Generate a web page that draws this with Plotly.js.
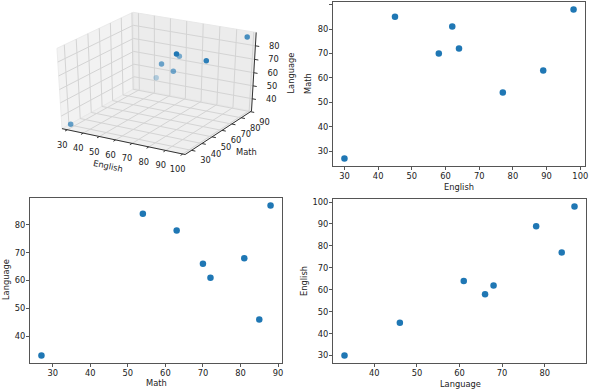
<!DOCTYPE html>
<html>
<head>
<meta charset="utf-8">
<script src="https://cdn.plot.ly/plotly-3.0.1.min.js"></script>
<style>html,body{margin:0;padding:0;background:#fff}#chart{width:590px;height:390px}</style>
</head>
<body>
<div id="chart"></div>
<script>
// ---- data ----
const english = [30, 45, 58, 62, 64, 77, 89, 98];
const math = [27, 85, 70, 81, 72, 54, 63, 88];
const language = [33, 46, 66, 68, 61, 84, 78, 87];

// ---- tick values ----
const englishTicks = [30, 40, 50, 60, 70, 80, 90, 100];
const mathTicks = [30, 40, 50, 60, 70, 80, 90];
const languageTicks3d = [40, 50, 60, 70, 80];

const blue = '#1f77b4';
const W = 590, H = 390;
const font = {family: 'DejaVu Sans', size: 8.3, color: '#222'};

// axis limits (matplotlib-like 5% margins)
function padRange(arr) {
  const lo = Math.min(...arr), hi = Math.max(...arr), m = (hi - lo) * 0.05;
  return [lo - m, hi + m];
}
const rE = padRange(english), rM = padRange(math), rL = padRange(language);

// ---- 3D projection (matplotlib style, elev 30, azim -60, dist 10) ----
const elev = 30 * Math.PI / 180, azim = -60 * Math.PI / 180, dist = 10, kz = 1.0;
const Rc = [0.5, 0.5, kz / 2];
const Eye = [Rc[0] + Math.cos(azim) * Math.cos(elev) * dist,
             Rc[1] + Math.sin(azim) * Math.cos(elev) * dist,
             Rc[2] + Math.sin(elev) * dist];
const sub = (a, b) => [a[0] - b[0], a[1] - b[1], a[2] - b[2]];
const dot = (a, b) => a[0] * b[0] + a[1] * b[1] + a[2] * b[2];
const cross = (a, b) => [a[1] * b[2] - a[2] * b[1], a[2] * b[0] - a[0] * b[2], a[0] * b[1] - a[1] * b[0]];
const norm = a => { const l = Math.sqrt(dot(a, a)); return [a[0] / l, a[1] / l, a[2] / l]; };
const nV = norm(sub(Eye, Rc));
const uV = norm(cross([0, 0, 1], nV));
const vV = cross(nV, uV);
function projN(p) {
  const q = [p[0], p[1], p[2] * kz];
  const d = sub(q, Eye);
  const zv = dot(nV, d);
  return [dot(uV, d) / -zv, dot(vV, d) / -zv, -zv];
}
// screen anchors of the box corners in the figure (normalized corner -> pixel)
const boxAnchors = [[0,0,0,63,128],[1,0,0,185,153],[1,1,0,252,112],[0,1,0,132,93],
                    [0,0,1,58,45],[0,1,1,132,13],[1,1,1,257,32]];
function fit(ps, ts) {
  const n = ps.length; let sx = 0, sy = 0, sxx = 0, sxy = 0;
  for (let i = 0; i < n; i++) { sx += ps[i]; sy += ts[i]; sxx += ps[i] * ps[i]; sxy += ps[i] * ts[i]; }
  const k = (n * sxy - sx * sy) / (n * sxx - sx * sx);
  return [k, (sy - k * sx) / n];
}
const pr = boxAnchors.map(a => projN([a[0], a[1], a[2]]));
const fx = fit(pr.map(p => p[0]), boxAnchors.map(a => a[3]));
const fy = fit(pr.map(p => p[1]), boxAnchors.map(a => a[4]));
function nrm(x, y, z) {
  return [(x - rE[0]) / (rE[1] - rE[0]), (y - rM[0]) / (rM[1] - rM[0]), (z - rL[0]) / (rL[1] - rL[0])];
}
function scr(nx, ny, nz) {
  const p = projN([nx, ny, nz]);
  return [fx[0] * p[0] + fx[1], fy[0] * p[1] + fy[1], p[2]];
}
function scrD(x, y, z) { const q = nrm(x, y, z); return scr(q[0], q[1], q[2]); }

const ax5 = {xaxis: 'x5', yaxis: 'y5', hoverinfo: 'skip', showlegend: false, cliponaxis: false};
const traces3d = [];
function poly(pts, fillcolor, linecolor) {
  const s = pts.map(p => scr(p[0], p[1], p[2]));
  s.push(s[0]);
  traces3d.push(Object.assign({type: 'scatter', mode: 'lines', x: s.map(p => p[0]), y: s.map(p => p[1]),
    fill: 'toself', fillcolor: fillcolor, line: {color: linecolor, width: 1}}, ax5));
}
// panes: left wall (x=min), back wall (y=max), floor (z=min)
poly([[0,0,0],[0,1,0],[0,1,1],[0,0,1]], 'rgb(242,242,242)', 'rgb(235,235,235)');
poly([[0,1,0],[1,1,0],[1,1,1],[0,1,1]], 'rgb(236,236,236)', 'rgb(232,232,232)');
poly([[0,0,0],[1,0,0],[1,1,0],[0,1,0]], 'rgb(239,239,239)', 'rgb(232,232,232)');

// grid lines
const gx = [], gy = [];
function seg(list) { list.forEach(p => { const s = scr(p[0], p[1], p[2]); gx.push(s[0]); gy.push(s[1]); }); gx.push(null); gy.push(null); }
englishTicks.forEach(t => { const a = nrm(t, 0, 0)[0]; if (a >= 0 && a <= 1) seg([[a,0,0],[a,1,0],[a,1,1]]); });
mathTicks.forEach(t => { const b = nrm(0, t, 0)[1]; if (b >= 0 && b <= 1) seg([[1,b,0],[0,b,0],[0,b,1]]); });
languageTicks3d.forEach(t => { const c = nrm(0, 0, t)[2]; if (c >= 0 && c <= 1) seg([[0,0,c],[0,1,c],[1,1,c]]); });
traces3d.push(Object.assign({type: 'scatter', mode: 'lines', x: gx, y: gy, line: {color: 'rgb(212,212,212)', width: 1}}, ax5));

// axis lines
const lx = [], ly = [];
function seg2(list) { list.forEach(p => { const s = scr(p[0], p[1], p[2]); lx.push(s[0]); ly.push(s[1]); }); lx.push(null); ly.push(null); }
seg2([[0,0,0],[1,0,0]]);
seg2([[1,0,0],[1,1,0]]);
seg2([[1,1,0],[1,1,1]]);
// tick marks
englishTicks.forEach(t => { const a = nrm(t, 0, 0)[0]; seg2([[a,0,0],[a,-0.03,0]]); });
mathTicks.forEach(t => { const b = nrm(0, t, 0)[1]; seg2([[1,b,0],[1.03,b,0]]); });
languageTicks3d.forEach(t => { const c = nrm(0, 0, t)[2]; seg2([[1,1,c],[1.03,1,c]]); });
traces3d.push(Object.assign({type: 'scatter', mode: 'lines', x: lx, y: ly, line: {color: '#333', width: 1}}, ax5));

// tick labels
function labels(ticks, fn, off) {
  const s = ticks.map(fn);
  traces3d.push(Object.assign({type: 'scatter', mode: 'text', x: s.map(p => p[0] + off[0]), y: s.map(p => p[1] + off[1]),
    text: ticks.map(String), textfont: font, textposition: 'middle center'}, ax5));
}
labels(englishTicks, t => scrD(t, rM[0], rL[0]), [-5, 16]);
labels(mathTicks, t => scrD(rE[1], t, rL[0]), [14, 11]);
labels(languageTicks3d, t => scrD(rE[1], rM[1], t), [19, 1]);

// data points with depth shading
const pts = english.map((e, i) => scrD(e, math[i], language[i]));
const depths = pts.map(p => p[2]);
const dmin = Math.min(...depths), dmax = Math.max(...depths);
const order = pts.map((p, i) => i).sort((a, b) => depths[b] - depths[a]);
traces3d.push(Object.assign({type: 'scatter', mode: 'markers',
  x: order.map(i => pts[i][0]), y: order.map(i => pts[i][1]),
  marker: {size: 5.5, line: {width: 0},
    color: order.map(i => 'rgba(31,119,180,' + (1 - 0.7 * (depths[i] - dmin) / (dmax - dmin)).toFixed(3) + ')')}}, ax5));

// ---- 2D scatter panels ----
const mk = {color: blue, size: 6.5, line: {width: 0}};
const traces2d = [
  {type: 'scatter', mode: 'markers', x: english, y: math, xaxis: 'x2', yaxis: 'y2', marker: mk},
  {type: 'scatter', mode: 'markers', x: math, y: language, xaxis: 'x3', yaxis: 'y3', marker: mk},
  {type: 'scatter', mode: 'markers', x: language, y: english, xaxis: 'x4', yaxis: 'y4', marker: mk}
];

function dx(a, b) { return [a / W, b / W]; }
function dy(top, bottom) { return [1 - bottom / H, 1 - top / H]; }
function ax(domain, range, anchor) {
  return {domain: domain, range: range, dtick: 10, tick0: 0, anchor: anchor,
    showline: true, mirror: true, linecolor: '#555', linewidth: 1,
    ticks: 'outside', ticklen: 3, tickcolor: '#555', showgrid: false, zeroline: false,
    tickfont: font, ticklabelstandoff: -1, automargin: false};
}
function ttl(text, x, y, angle) {
  return {text: text, x: x / W, y: 1 - y / H, xref: 'paper', yref: 'paper', showarrow: false,
    font: font, textangle: angle || 0, xanchor: 'center', yanchor: 'middle'};
}
function ttl3(text, x, y, angle) {
  return {text: text, x: x, y: y, xref: 'x5', yref: 'y5', showarrow: false,
    font: font, textangle: angle || 0, xanchor: 'center', yanchor: 'middle'};
}
const eMid = scrD((rE[0] + rE[1]) / 2, rM[0], rL[0]);
const mMid = scrD(rE[1], (rM[0] + rM[1]) / 2, rL[0]);
const lMid = scrD(rE[1], rM[1], (rL[0] + rL[1]) / 2);

const layout = {
  width: W, height: H, margin: {l: 0, r: 0, t: 0, b: 0},
  paper_bgcolor: '#fff', plot_bgcolor: 'rgba(0,0,0,0)', showlegend: false, font: font,
  xaxis5: {domain: [0, 300 / W], range: [0, 300], visible: false, fixedrange: true},
  yaxis5: {domain: [1 - 190 / H, 1], range: [190, 0], visible: false, fixedrange: true},
  xaxis2: ax(dx(333, 585), rE, 'y2'),
  yaxis2: ax(dy(2, 166), rM, 'x2'),
  xaxis3: ax(dx(30, 282), rM, 'y3'),
  yaxis3: ax(dy(198, 363), rL, 'x3'),
  xaxis4: ax(dx(333, 586), rL, 'y4'),
  yaxis4: ax(dy(199, 363), rE, 'x4'),
  annotations: [
    ttl('English', 459, 187), ttl('Math', 308, 84, -90),
    ttl('Math', 156, 383), ttl('Language', 6, 280, -90),
    ttl('Language', 460, 384), ttl('English', 304, 281, -90),
    ttl3('English', eMid[0] - 14, eMid[1] + 25, 12),
    ttl3('Math', mMid[0] + 27, mMid[1] + 20, 0),
    ttl3('Language', lMid[0] + 37, lMid[1] + 0, -90)
  ]
};

Plotly.newPlot('chart', traces3d.concat(traces2d), layout, {displayModeBar: false, staticPlot: true});
</script>
</body>
</html>
